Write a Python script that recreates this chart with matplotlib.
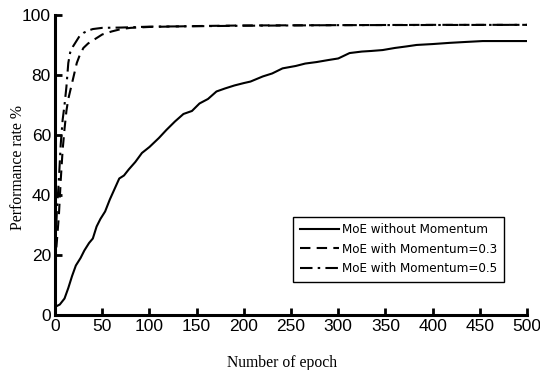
import matplotlib
matplotlib.use("Agg")
import matplotlib.pyplot as plt

# Data
ep_no = [0, 5, 10, 14, 18, 22, 27, 31, 36, 40, 44, 48, 53, 58, 63, 68, 73, 78, 85, 92, 100,
         110, 118, 127, 136, 145, 153, 162, 171, 180, 190, 200, 207, 220, 230, 241, 255,
         265, 277, 290, 300, 312, 325, 335, 347, 360, 372, 383, 400, 418, 435, 453, 470, 485, 500]
perf_no = [2.7, 3.5, 5.5, 9, 13, 16.5, 19, 21.5, 24, 25.5, 29.5, 32, 34.5, 38.5, 42, 45.5, 46.5,
           48.5, 51, 54, 56, 59, 61.7, 64.5, 67, 68, 70.5, 72, 74.5, 75.5, 76.5, 77.3, 77.8,
           79.5, 80.5, 82.2, 83, 83.8, 84.3, 85, 85.5, 87.3, 87.8, 88, 88.3, 89, 89.5, 90,
           90.3, 90.7, 91, 91.3, 91.3, 91.3, 91.3]

ep_03 = [0, 2, 4, 6, 8, 10, 12, 14, 17, 20, 23, 26, 30, 35, 40, 45, 50, 60, 70, 80, 100,
         150, 200, 300, 400, 500]
perf_03 = [17, 25, 33, 45, 55, 62, 68, 72, 76, 80, 84, 86.5, 89, 90.5, 91.5, 92.5, 93.5,
           94.5, 95.3, 95.7, 96, 96.3, 96.5, 96.6, 96.7, 96.7]

ep_05 = [0, 2, 4, 6, 8, 10, 12, 14, 16, 19, 22, 26, 30, 35, 40, 50, 70, 100, 200, 300, 500]
perf_05 = [22, 35, 45, 57, 65, 70, 76, 84, 87.5, 89.5, 91, 93, 94, 94.8, 95.3, 95.7, 95.8,
           96.1, 96.4, 96.6, 96.7]

labels = ["MoE without Momentum", "MoE with Momentum=0.3", "MoE with Momentum=0.5"]
xticks = [0, 50, 100, 150, 200, 250, 300, 350, 400, 450, 500]
yticks = [0, 20, 40, 60, 80, 100]

fig = plt.figure(figsize=(5.4, 3.7), dpi=100)
ax = fig.add_axes([0.102, 0.1486, 0.874, 0.811])

ax.plot(ep_no, perf_no, color="black", lw=1.5, ls="-", label=labels[0])
ax.plot(ep_03, perf_03, color="black", lw=1.5, ls=(0, (5, 3)), label=labels[1])
ax.plot(ep_05, perf_05, color="black", lw=1.5, ls=(0, (6, 2.5, 1.2, 2.5)), label=labels[2])

ax.set_xlim(0, 500)
ax.set_ylim(0, 100)
ax.set_xticks(xticks)
ax.set_yticks(yticks)
for s in ["top", "right"]:
    ax.spines[s].set_visible(False)
for s in ["left", "bottom"]:
    ax.spines[s].set_linewidth(2.2)
ax.tick_params(direction="in", length=5, width=2, labelsize=12.5, pad=3)
for lab in ax.get_xticklabels() + ax.get_yticklabels():
    lab.set_family("Liberation Sans")

ax.set_xlabel("Number of epoch", family="Liberation Serif", fontsize=11.3)
ax.set_ylabel("Performance rate %", family="Liberation Serif", fontsize=11.3)
ax.xaxis.set_label_coords(0.481, -0.133)
ax.yaxis.set_label_coords(-0.062, 0.493)

leg = ax.legend(loc="lower right", bbox_to_anchor=(0.951, 0.11), borderaxespad=0,
                fancybox=False, edgecolor="black", framealpha=1, handlelength=3.0,
                handletextpad=0.2, labelspacing=0.5, borderpad=0.5,
                prop={"family": "DejaVu Sans", "size": 9.5, "stretch": "condensed"})
leg.get_frame().set_linewidth(1.0)

fig.savefig("out.png", dpi=100)
